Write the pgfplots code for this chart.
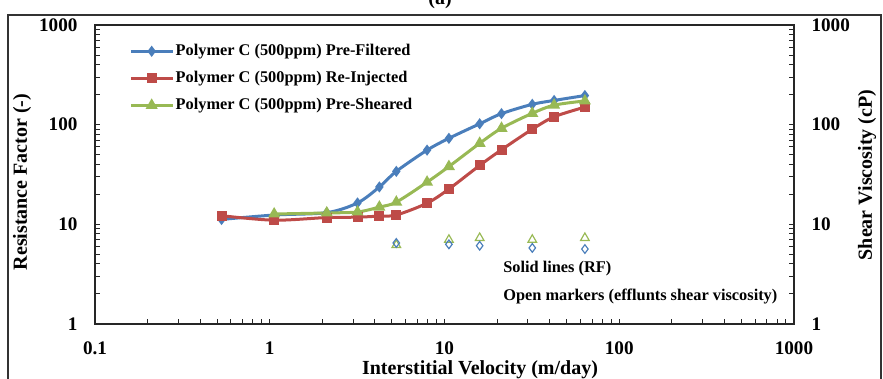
\documentclass[border=0pt]{standalone}
\usepackage{fontspec}
\setmainfont{Liberation Serif}
\usepackage{pgfplots}
\pgfplotsset{compat=1.18}
\definecolor{cblue}{HTML}{4A7EBB}
\definecolor{cred}{HTML}{BE4B48}
\definecolor{cgreen}{HTML}{98B954}
\newcommand{\tickfont}{\fontsize{11.5}{12}\selectfont\bfseries}
\newcommand{\labfont}{\fontsize{12}{13}\selectfont\bfseries}
\newcommand{\legfont}{\fontsize{9.8}{11}\selectfont\bfseries}
\begin{document}
\begin{tikzpicture}[x=0.6pt,y=0.6pt]
\useasboundingbox (0,0) rectangle (883,379);
\clip (0,0) rectangle (883,379);
\draw[black!80, line width=0.9pt] (8,-10) -- (8,364) -- (881,364) -- (881,-10);
\node[anchor=base, font=\labfont] at (440,374) {(a)};

\begin{axis}[
  at={(57pt,33pt)}, anchor=south west, scale only axis,
  width=419.4pt, height=179.4pt,
  xmode=log, ymode=log, xmin=0.1, xmax=1000, ymin=1, ymax=1000,
  tick align=inside, major tick length=3pt, minor tick length=3pt,
  axis line style={black!85, line width=0.8pt},
  every tick/.style={black!85, line width=0.6pt},
  log ticks with fixed point,
  /pgf/number format/1000 sep={},
  /pgf/number format/assume math mode=true,
  ticklabel style={font=\tickfont},
  tick pos=left,
  yticklabel style={xshift=-7pt}, xticklabel style={yshift=-7pt},
  legend style={at={(0.0415,0.953)}, anchor=north west, draw=none, fill=none,
    font=\legfont, row sep=5.9pt, nodes={inner sep=1pt}},
  legend cell align=left,
  legend image code/.code={\draw[mark repeat=2,mark phase=2,#1] plot coordinates {(0pt,0pt)(12.5pt,0pt)(25pt,0pt)};},
]
\addplot[cblue, line width=1.8pt, smooth, mark=diamond*, mark size=1.9pt, mark options={solid}] coordinates {
(0.53,11.2) (1.06,12.4) (2.12,13.1) (3.18,16.4) (4.24,23.7) (5.3,34) (7.95,55.5) (10.6,73) (15.9,102) (21.2,129) (31.8,160) (42.4,175) (63.6,196)};
\addlegendentry{Polymer C (500ppm) Pre-Filtered}
\addplot[cred, line width=1.8pt, smooth, mark=square*, mark size=2.1pt, mark options={solid}] coordinates {
(0.53,12.2) (1.06,11.0) (2.12,11.7) (3.18,11.8) (4.24,12.1) (5.3,12.4) (7.95,16.3) (10.6,22.6) (15.9,39) (21.2,56) (31.8,90) (42.4,120) (63.6,150)};
\addlegendentry{Polymer C (500ppm) Re-Injected}
\addplot[cgreen, line width=1.8pt, smooth, mark=triangle*, mark size=2.4pt, mark options={solid}] coordinates {
(1.06,12.7) (2.12,13.0) (3.18,13.3) (4.24,14.9) (5.3,16.7) (7.95,26.5) (10.6,38) (15.9,65) (21.2,92) (31.8,130) (42.4,157) (63.6,173)};
\addlegendentry{Polymer C (500ppm) Pre-Sheared}
\end{axis}

\begin{axis}[
  at={(57pt,33pt)}, anchor=south west, scale only axis,
  width=419.4pt, height=179.4pt,
  xmode=log, ymode=log, xmin=0.1, xmax=1000, ymin=1, ymax=1000,
  tick align=inside, major tick length=3pt, minor tick length=3pt,
  axis line style={black!85, line width=0.8pt},
  every tick/.style={black!85, line width=0.6pt},
  log ticks with fixed point,
  /pgf/number format/1000 sep={},
  /pgf/number format/assume math mode=true,
  ticklabel style={font=\tickfont},
  axis x line=none, axis y line*=right,
  yticklabel style={xshift=7pt},
]
\addplot[only marks, cgreen, mark=triangle, mark size=3pt, mark options={line width=0.7pt}] coordinates {
(5.3,6.2) (10.6,7.0) (15.9,7.3) (31.8,7.0) (63.6,7.3)};
\addplot[only marks, cblue, mark=diamond, mark size=2.6pt, mark options={line width=0.7pt}] coordinates {
(5.3,6.5) (10.6,6.3) (15.9,6.1) (31.8,5.8) (63.6,5.65)};
\end{axis}

\node[anchor=west, inner sep=0pt, font=\legfont] at (503,110) {Solid lines (RF)};
\node[anchor=west, inner sep=0pt, font=\legfont] at (503,82) {Open markers (efflunts shear viscosity)};
\node[rotate=90, font=\labfont] at (22,197) {Resistance Factor (-)};
\node[rotate=90, font=\labfont] at (867,204) {Shear Viscosity (cP)};
\node[font=\labfont] at (480,9) {Interstitial Velocity (m/day)};
\end{tikzpicture}
\end{document}
